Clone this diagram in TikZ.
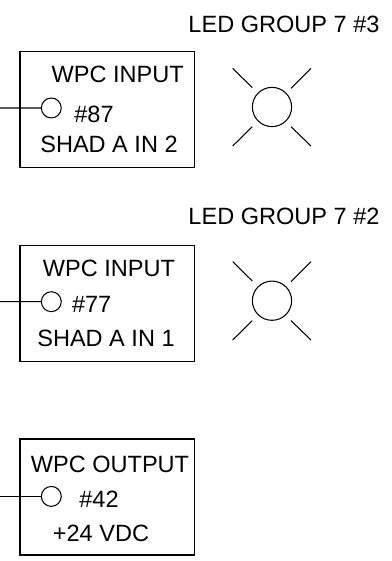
\documentclass[tikz,border=0pt]{standalone}
\usepackage{fontspec}
\setmainfont{Liberation Sans}
\usepackage{tikz,tkz-graph}
\tikzstyle{labelText}=[shape = rectangle, inner sep = 0pt, font = \fontsize{20.1}{24}\selectfont]
\tikzstyle{wpcBox}=[shape = rectangle, minimum width = 149pt, minimum height = 99pt, inner sep = 0pt, line width = 1.1pt, draw]
\tikzstyle{pinStyle}=[shape = circle, minimum size = 17pt, inner sep = 0pt, line width = 0.9pt, draw]
\tikzstyle{ledStyle}=[shape = circle, minimum size = 33.5pt, inner sep = 0pt, line width = 0.9pt, draw]

\begin{document}
\begin{tikzpicture}[scale = 3]
\tikzstyle{VertexStyle} = []
\tikzstyle{EdgeStyle} = [line width = 0.9pt]
\useasboundingbox (0,0) rectangle (3.92,5.61);
% boxes
\Vertex[style = wpcBox, x = 1.073, y = 4.513, NoLabel]{box0}
\Vertex[style = wpcBox, x = 1.073, y = 2.578, NoLabel]{box1}
\Vertex[style = wpcBox, x = 1.073, y = 0.640, NoLabel]{box2}
% pins
\Vertex[style = pinStyle, x = 0.513, y = 4.530, NoLabel]{pin0}
\Vertex[style = pinStyle, x = 0.513, y = 2.593, NoLabel]{pin1}
\Vertex[style = pinStyle, x = 0.513, y = 0.646, NoLabel]{pin2}
\coordinate (wire0) at (0,4.530);
\coordinate (wire1) at (0,2.593);
\coordinate (wire2) at (0,0.646);
\Edge(wire0)(pin0)
\Edge(wire1)(pin1)
\Edge(wire2)(pin2)
% labels
\Vertex[style = labelText, x = 2.840, y = 5.370, L = {LED GROUP 7 \#3}]{title0}
\Vertex[style = labelText, x = 1.177, y = 4.865, L = {WPC INPUT}]{name0}
\Vertex[style = labelText, x = 0.940, y = 4.470, L = {\#87}]{num0}
\Vertex[style = labelText, x = 1.090, y = 4.170, L = {SHAD A IN 2}]{sig0}
\Vertex[style = labelText, x = 2.840, y = 3.450, L = {LED GROUP 7 \#2}]{title1}
\Vertex[style = labelText, x = 1.090, y = 2.923, L = {WPC INPUT}]{name1}
\Vertex[style = labelText, x = 0.917, y = 2.567, L = {\#77}]{num1}
\Vertex[style = labelText, x = 1.060, y = 2.223, L = {SHAD A IN 1}]{sig1}
\Vertex[style = labelText, x = 1.100, y = 0.963, L = {WPC OUTPUT}]{name2}
\Vertex[style = labelText, x = 0.990, y = 0.620, L = {\#42}]{num2}
\Vertex[style = labelText, x = 1.010, y = 0.273, L = {+24 VDC}]{sig2}
% leds
\Vertex[style = ledStyle, x = 2.720, y = 4.540, NoLabel]{led0}
\Vertex[style = ledStyle, x = 2.720, y = 2.603, NoLabel]{led1}
\coordinate (a0) at (2.327,4.927);
\coordinate (b0) at (2.523,4.733);
\coordinate (c0) at (3.110,4.927);
\coordinate (d0) at (2.910,4.727);
\coordinate (e0) at (2.327,4.150);
\coordinate (f0) at (2.523,4.343);
\coordinate (g0) at (3.110,4.150);
\coordinate (h0) at (2.910,4.343);
\Edge(a0)(b0)
\Edge(c0)(d0)
\Edge(e0)(f0)
\Edge(g0)(h0)
\coordinate (a1) at (2.327,2.993);
\coordinate (b1) at (2.523,2.800);
\coordinate (c1) at (3.110,2.993);
\coordinate (d1) at (2.910,2.793);
\coordinate (e1) at (2.327,2.210);
\coordinate (f1) at (2.523,2.403);
\coordinate (g1) at (3.110,2.210);
\coordinate (h1) at (2.910,2.403);
\Edge(a1)(b1)
\Edge(c1)(d1)
\Edge(e1)(f1)
\Edge(g1)(h1)
\end{tikzpicture}
\end{document}
